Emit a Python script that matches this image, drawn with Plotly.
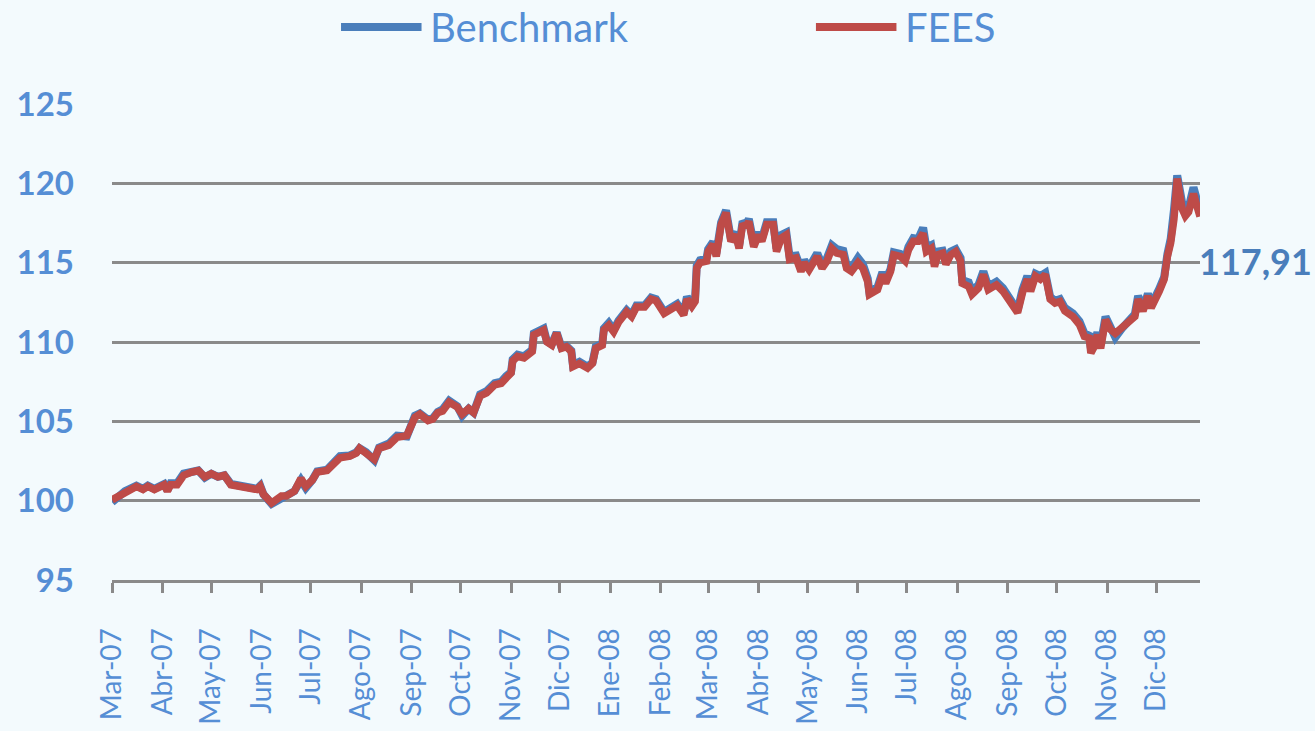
"""Benchmark vs FEES index chart (Mar-07 .. Dic-08)."""

import plotly.graph_objects as go

TEXT_BLUE = "#558ED5"
LINE_BLUE = "#4A7EBB"
LINE_RED = "#BE4B48"
GRID = "#8A8A8A"
FONT = "Lato, Carlito, Calibri, sans-serif"

dates = [
    "2007-03-01", "2007-03-09", "2007-03-16", "2007-03-20", "2007-03-23", "2007-03-27",
    "2007-04-02", "2007-04-04", "2007-04-06", "2007-04-10", "2007-04-14", "2007-04-19",
    "2007-04-23", "2007-04-27", "2007-05-01", "2007-05-05", "2007-05-09", "2007-05-13",
    "2007-05-18", "2007-05-23", "2007-05-29", "2007-05-31", "2007-06-02", "2007-06-07",
    "2007-06-13", "2007-06-16", "2007-06-21", "2007-06-25", "2007-06-28", "2007-07-02",
    "2007-07-05", "2007-07-11", "2007-07-14", "2007-07-19", "2007-07-25", "2007-07-29",
    "2007-07-31", "2007-08-04", "2007-08-09", "2007-08-12", "2007-08-18", "2007-08-23",
    "2007-08-29", "2007-09-03", "2007-09-06", "2007-09-11", "2007-09-14", "2007-09-17",
    "2007-09-20", "2007-09-24", "2007-09-29", "2007-10-02", "2007-10-06", "2007-10-09",
    "2007-10-13", "2007-10-17", "2007-10-22", "2007-10-26", "2007-10-29", "2007-11-01",
    "2007-11-02", "2007-11-05", "2007-11-09", "2007-11-14", "2007-11-15", "2007-11-18",
    "2007-11-21", "2007-11-23", "2007-11-26", "2007-11-29", "2007-12-02", "2007-12-05",
    "2007-12-08", "2007-12-09", "2007-12-13", "2007-12-18", "2007-12-21", "2007-12-23",
    "2007-12-27", "2007-12-28", "2007-12-31", "2008-01-03", "2008-01-06", "2008-01-11",
    "2008-01-14", "2008-01-17", "2008-01-22", "2008-01-26", "2008-01-29", "2008-02-03",
    "2008-02-07", "2008-02-11", "2008-02-15", "2008-02-17", "2008-02-20", "2008-02-22",
    "2008-02-23", "2008-02-25", "2008-02-29", "2008-03-01", "2008-03-04", "2008-03-06",
    "2008-03-09", "2008-03-12", "2008-03-15", "2008-03-18", "2008-03-20", "2008-03-22",
    "2008-03-25", "2008-03-26", "2008-03-29", "2008-04-01", "2008-04-03", "2008-04-06",
    "2008-04-10", "2008-04-12", "2008-04-15", "2008-04-18", "2008-04-20", "2008-04-24",
    "2008-04-27", "2008-04-29", "2008-05-02", "2008-05-07", "2008-05-10", "2008-05-13",
    "2008-05-16", "2008-05-19", "2008-05-23", "2008-05-25", "2008-05-28", "2008-06-01",
    "2008-06-04", "2008-06-07", "2008-06-08", "2008-06-13", "2008-06-16", "2008-06-18",
    "2008-06-21", "2008-06-23", "2008-06-27", "2008-06-30", "2008-07-02", "2008-07-05",
    "2008-07-08", "2008-07-11", "2008-07-13", "2008-07-16", "2008-07-18", "2008-07-20",
    "2008-07-23", "2008-07-25", "2008-07-28", "2008-07-31", "2008-08-03", "2008-08-04",
    "2008-08-08", "2008-08-10", "2008-08-14", "2008-08-17", "2008-08-20", "2008-08-25",
    "2008-08-29", "2008-09-03", "2008-09-07", "2008-09-10", "2008-09-13", "2008-09-15",
    "2008-09-18", "2008-09-21", "2008-09-24", "2008-09-27", "2008-09-30", "2008-10-03",
    "2008-10-06", "2008-10-11", "2008-10-15", "2008-10-18", "2008-10-21", "2008-10-22",
    "2008-10-24", "2008-10-26", "2008-10-28", "2008-10-31", "2008-11-03", "2008-11-06",
    "2008-11-10", "2008-11-14", "2008-11-18", "2008-11-20", "2008-11-23", "2008-11-26",
    "2008-11-28", "2008-12-03", "2008-12-06", "2008-12-08", "2008-12-10", "2008-12-12",
    "2008-12-13", "2008-12-14", "2008-12-17", "2008-12-19", "2008-12-21", "2008-12-24",
    "2008-12-26", "2008-12-28",
]

fees = [
    100.05, 100.5, 100.9, 100.7, 100.9, 100.7,
    101.0, 100.6, 101.0, 101.0, 101.6, 101.8,
    101.9, 101.5, 101.7, 101.5, 101.6, 101.0,
    100.9, 100.7, 100.7, 100.9, 100.4, 99.85,
    100.3, 100.3, 100.6, 101.4, 100.9, 101.3,
    101.8, 101.9, 102.2, 102.7, 102.8, 103.0,
    103.3, 103.0, 102.6, 103.3, 103.5, 104.0,
    104.1, 105.25, 105.45, 105.05, 105.15, 105.55,
    105.65, 106.2, 105.9, 105.45, 105.8, 105.55,
    106.6, 106.8, 107.3, 107.4, 107.75, 108.05,
    108.8, 109.1, 109.0, 109.4, 110.45, 110.55,
    110.75, 110.0, 109.8, 110.55, 109.6, 109.7,
    109.4, 108.45, 108.65, 108.35, 108.65, 109.6,
    109.8, 110.75, 111.05, 110.65, 111.25, 111.9,
    111.6, 112.2, 112.2, 112.7, 112.6, 111.8,
    112.0, 112.3, 111.7, 112.7, 112.25, 112.55,
    114.65, 115.0, 115.1, 115.7, 116.15, 115.4,
    117.4, 118.15, 116.35, 116.75, 115.9, 117.3,
    117.4, 117.6, 116.0, 116.75, 116.35, 117.4,
    117.4, 115.7, 116.55, 116.75, 115.2, 115.3,
    114.45, 115.0, 114.55, 115.4, 114.65, 115.1,
    115.9, 115.6, 115.5, 114.65, 114.45, 115.0,
    114.65, 113.8, 113.0, 113.3, 114.25, 113.7,
    114.45, 115.5, 115.4, 115.1, 115.8, 116.35,
    116.35, 116.85, 115.7, 115.9, 114.75, 115.5,
    115.6, 114.9, 115.5, 115.7, 115.1, 113.7,
    113.5, 113.0, 113.4, 114.25, 113.3, 113.6,
    113.2, 112.45, 111.85, 113.1, 113.95, 113.2,
    114.15, 113.95, 114.25, 112.7, 112.45, 112.55,
    111.95, 111.6, 111.1, 110.35, 110.25, 109.3,
    109.7, 110.45, 109.6, 111.4, 110.8, 110.55,
    110.9, 111.2, 111.6, 112.7, 111.95, 112.9,
    112.15, 113.2, 113.95, 115.4, 116.25, 117.75,
    119.45, 120.3, 118.4, 117.95, 118.2, 119.35,
    118.6, 117.91,
]

benchmark = [
    99.9, 100.6, 100.95, 100.75, 100.95, 100.75,
    101.05, 100.65, 101.1, 101.1, 101.7, 101.85,
    101.9, 101.45, 101.7, 101.5, 101.6, 101.05,
    100.95, 100.75, 100.75, 100.95, 100.4, 99.8,
    100.2, 100.3, 100.6, 101.3, 100.8, 101.3,
    101.85, 101.95, 102.3, 102.8, 102.85, 103.05,
    103.3, 103.05, 102.55, 103.35, 103.6, 104.1,
    104.05, 105.35, 105.5, 105.1, 105.2, 105.6,
    105.75, 106.3, 105.95, 105.35, 105.8, 105.55,
    106.7, 106.9, 107.4, 107.5, 107.85, 108.1,
    108.9, 109.2, 109.1, 109.5, 110.55, 110.65,
    110.85, 110.05, 109.85, 110.6, 109.65, 109.75,
    109.45, 108.55, 108.75, 108.45, 108.7, 109.7,
    109.9, 110.85, 111.2, 110.75, 111.35, 112.0,
    111.7, 112.3, 112.3, 112.8, 112.7, 111.9,
    112.1, 112.4, 111.8, 112.85, 112.35, 112.7,
    114.8, 115.15, 115.25, 115.85, 116.3, 115.55,
    117.55, 118.3, 116.5, 116.9, 116.05, 117.45,
    117.55, 117.75, 116.2, 116.9, 116.5, 117.55,
    117.55, 115.9, 116.75, 116.9, 115.4, 115.45,
    114.6, 115.15, 114.7, 115.6, 114.85, 115.3,
    116.1, 115.85, 115.75, 114.85, 114.65, 115.3,
    114.9, 114.0, 113.15, 113.45, 114.4, 113.9,
    114.6, 115.65, 115.55, 115.3, 116.0, 116.55,
    116.5, 117.2, 115.95, 116.1, 115.0, 115.7,
    115.75, 115.1, 115.7, 115.85, 115.3, 113.9,
    113.75, 113.2, 113.6, 114.45, 113.5, 113.8,
    113.4, 112.65, 112.0, 113.3, 114.15, 113.4,
    114.3, 114.15, 114.35, 112.85, 112.6, 112.7,
    112.15, 111.8, 111.3, 110.55, 110.4, 109.6,
    109.9, 110.6, 109.85, 111.6, 110.95, 110.3,
    110.85, 111.35, 111.75, 112.9, 112.1, 113.05,
    112.3, 113.35, 114.1, 115.55, 116.5, 118.3,
    119.9, 120.5, 118.8, 118.3, 118.45, 119.75,
    119.0, 118.5,
]

month_ticks = [
    "2007-03-01", "2007-04-01", "2007-05-01", "2007-06-01", "2007-07-01", "2007-08-01",
    "2007-09-01", "2007-10-01", "2007-11-01", "2007-12-01", "2008-01-01", "2008-02-01",
    "2008-03-01", "2008-04-01", "2008-05-01", "2008-06-01", "2008-07-01", "2008-08-01",
    "2008-09-01", "2008-10-01", "2008-11-01", "2008-12-01",
]
month_labels = [
    "Mar-07", "Abr-07", "May-07", "Jun-07", "Jul-07", "Ago-07", "Sep-07", "Oct-07",
    "Nov-07", "Dic-07", "Ene-08", "Feb-08", "Mar-08", "Abr-08", "May-08", "Jun-08",
    "Jul-08", "Ago-08", "Sep-08", "Oct-08", "Nov-08", "Dic-08",
]

last_label = "117,91"
label_level = 115.1

series = [("Benchmark", benchmark, LINE_BLUE, 8), ("FEES", fees, LINE_RED, 7.5)]

fig = go.Figure()
for name, values, color, width in series:
    fig.add_trace(go.Scatter(
        x=dates, y=values, name=name, mode="lines",
        line=dict(color=color, width=width), showlegend=False,
    ))

# hand-drawn legend above the plot (long, thick line keys like the original)
legend_slots = [(0.2105, "Benchmark", LINE_BLUE), (0.647, "FEES", LINE_RED)]
key_len = 0.074
key_y = 1.162
for x0, name, color in legend_slots:
    fig.add_shape(
        type="line", xref="paper", yref="paper",
        x0=x0, x1=x0 + key_len, y0=key_y, y1=key_y,
        line=dict(color=color, width=8),
    )
    fig.add_annotation(
        text=name, xref="paper", yref="paper",
        x=x0 + key_len + 0.006, y=key_y, xanchor="left", yanchor="middle",
        showarrow=False,
        font=dict(family=FONT, size=40, color=TEXT_BLUE),
    )

fig.add_annotation(
    text=last_label, xref="paper", x=1.0, xanchor="left", xshift=-3,
    yref="y", y=label_level, yanchor="middle", showarrow=False,
    font=dict(family=FONT, size=36, color="#4A7EBB", weight="bold"),
)

fig.update_layout(
    width=1315,
    height=731,
    margin=dict(l=112, r=115, t=104, b=151, autoexpand=False),
    paper_bgcolor="#F3FAFD",
    plot_bgcolor="rgba(0,0,0,0)",
    font=dict(family=FONT, color=TEXT_BLUE),
    showlegend=False,
)

fig.update_xaxes(
    type="date",
    range=["2007-03-01", "2008-12-28"],
    tickmode="array",
    tickvals=month_ticks,
    ticktext=month_labels,
    tickangle=-90,
    tickfont=dict(family=FONT, size=28, color=TEXT_BLUE),
    ticks="outside",
    ticklen=10,
    tickwidth=3,
    tickcolor=GRID,
    ticklabelstandoff=24,
    automargin=False,
    showgrid=False,
    showline=True,
    linecolor=GRID,
    linewidth=3,
    zeroline=False,
)
fig.update_yaxes(
    range=[95, 125],
    tickvals=[95, 100, 105, 110, 115, 120, 125],
    tickfont=dict(family=FONT, size=33, color=TEXT_BLUE, weight="bold"),
    ticklabelstandoff=37,
    automargin=False,
    showgrid=True,
    gridcolor=GRID,
    gridwidth=3,
    zeroline=False,
    showline=False,
)

fig.write_html(
    "out.html",
    config={"displayModeBar": False},
    post_script="document.body.style.margin='0';document.body.style.overflow='hidden';",
)
